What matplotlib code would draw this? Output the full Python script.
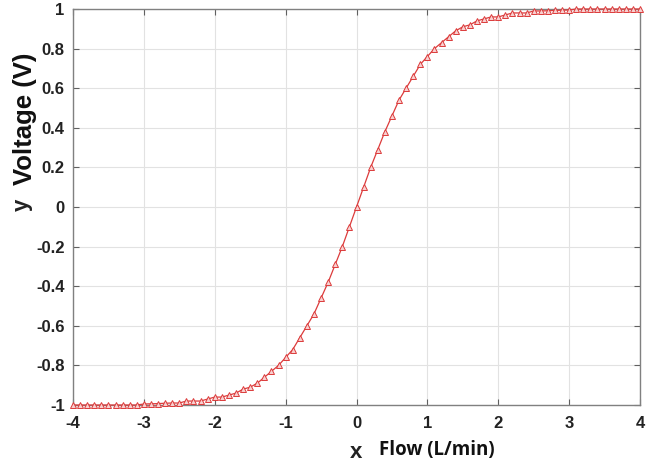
import matplotlib
matplotlib.use("Agg")
import matplotlib.pyplot as plt

plt.rcParams["axes.unicode_minus"] = False

# flow values (L/min), sampled every 0.1
flow = [round(-4 + 0.1 * i, 1) for i in range(81)]

# sensor output voltage (V)
voltage = [
    -1.00, -1.00, -1.00, -1.00, -1.00, -1.00, -1.00, -1.00, -1.00, -1.00,
    -0.995, -0.994, -0.993, -0.991, -0.99, -0.99, -0.98, -0.98, -0.98, -0.97,
    -0.96, -0.96, -0.95, -0.94, -0.92, -0.91, -0.89, -0.86, -0.83, -0.80,
    -0.76, -0.72, -0.66, -0.60, -0.54, -0.46, -0.38, -0.29, -0.20, -0.10,
    0.00,
    0.10, 0.20, 0.29, 0.38, 0.46, 0.54, 0.60, 0.66, 0.72, 0.76,
    0.80, 0.83, 0.86, 0.89, 0.91, 0.92, 0.94, 0.95, 0.96, 0.96,
    0.97, 0.98, 0.98, 0.98, 0.99, 0.99, 0.991, 0.993, 0.994, 0.995,
    1.00, 1.00, 1.00, 1.00, 1.00, 1.00, 1.00, 1.00, 1.00, 1.00,
]

x_ticks = [-4, -3, -2, -1, 0, 1, 2, 3, 4]
y_ticks = [-1, -0.8, -0.6, -0.4, -0.2, 0, 0.2, 0.4, 0.6, 0.8, 1]
y_tick_labels = ["-1", "-0.8", "-0.6", "-0.4", "-0.2", "0",
                 "0.2", "0.4", "0.6", "0.8", "1"]

fig = plt.figure(figsize=(6.65, 4.65), dpi=100)
ax = fig.add_axes([73 / 665, 60 / 465, 567 / 665, 396 / 465])

ax.plot(flow, voltage, color="#dc3b3b", lw=0.9, marker="^", ms=5,
        mfc="#f8d0d0", mec="#dc3b3b", mew=0.7, clip_on=False, zorder=3)

ax.set_xlim(-4, 4)
ax.set_ylim(-1, 1)
ax.set_xticks(x_ticks)
ax.set_yticks(y_ticks)
ax.set_yticklabels(y_tick_labels)
ax.grid(True, color="#e2e2e2", lw=0.8)
ax.set_axisbelow(True)

for s in ax.spines.values():
    s.set_color("#808080")
    s.set_linewidth(1.0)

ax.tick_params(direction="in", top=True, right=True, length=4,
               color="#606060")
ax.tick_params(axis="y", pad=6)
ax.tick_params(axis="x", pad=8)
for lab in ax.get_xticklabels() + ax.get_yticklabels():
    lab.set_fontfamily("Liberation Sans")
    lab.set_fontweight("bold")
    lab.set_fontsize(12)
    lab.set_color("#222222")

# axis captions
fig.text(356 / 665, 1 - 452 / 465, "x", family="Liberation Sans",
         weight="bold", fontsize=16, ha="center", va="center", color="#222222")
fig.text(437 / 665, 1 - 450 / 465, "Flow (L/min)", family="Open Sans",
         weight="bold", fontsize=13.5, ha="center", va="center", color="#111111")
fig.text(22 / 665, 1 - 205 / 465, "y", family="Liberation Sans",
         weight="bold", fontsize=16, ha="center", va="center",
         rotation=90, color="#222222")
fig.text(25 / 665, 1 - 119 / 465, "Voltage (V)", family="Liberation Sans",
         weight="bold", fontsize=18.5, ha="center", va="center",
         rotation=90, color="#111111")

fig.savefig("out.png", dpi=100)
